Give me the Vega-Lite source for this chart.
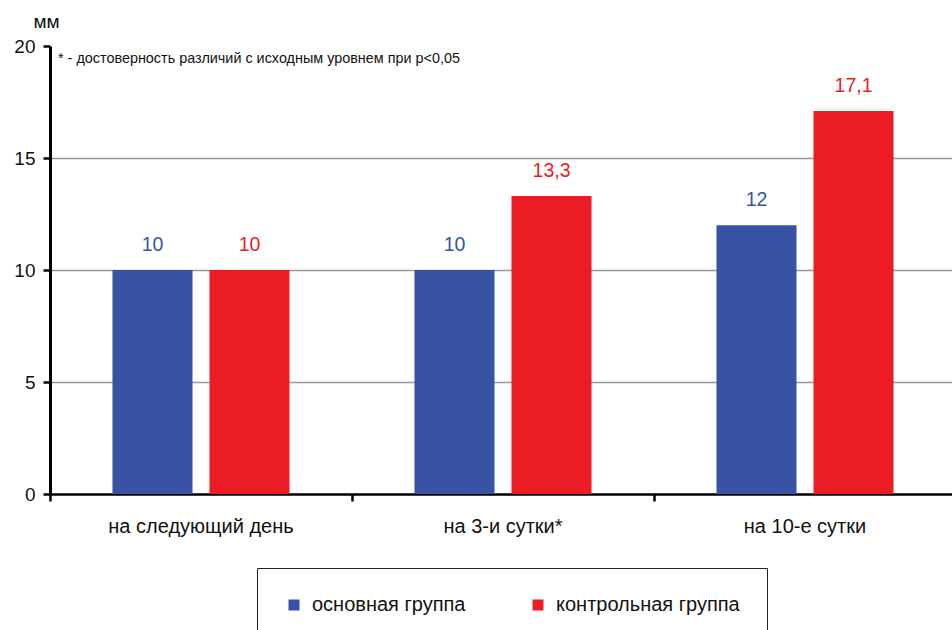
{
  "$schema": "https://vega.github.io/schema/vega-lite/v6.json",
  "autosize": {"type": "none"},
  "width": 906,
  "height": 448,
  "padding": {"left": 50, "top": 46, "right": 0, "bottom": 150},
  "background": "white",
  "config": {
    "font": "Liberation Sans",
    "view": {"stroke": null}
  },
  "title": {
    "text": "* - достоверность различий с исходным уровнем при p<0,05",
    "frame": "group",
    "anchor": "start",
    "orient": "top",
    "offset": 0,
    "dx": 8,
    "dy": 65,
    "baseline": "alphabetic",
    "fontSize": 14.4,
    "fontWeight": "normal",
    "color": "#111"
  },
  "data": {
    "values": [
      {"period": "на следующий день", "group": "основная группа", "value": 10, "label": "10"},
      {"period": "на следующий день", "group": "контрольная группа", "value": 10, "label": "10"},
      {"period": "на 3-и сутки*", "group": "основная группа", "value": 10, "label": "10"},
      {"period": "на 3-и сутки*", "group": "контрольная группа", "value": 13.3, "label": "13,3"},
      {"period": "на 10-е сутки", "group": "основная группа", "value": 12, "label": "12"},
      {"period": "на 10-е сутки", "group": "контрольная группа", "value": 17.1, "label": "17,1"}
    ]
  },
  "encoding": {
    "x": {
      "field": "period",
      "type": "nominal",
      "sort": ["на следующий день", "на 3-и сутки*", "на 10-е сутки"],
      "scale": {"paddingInner": 0, "paddingOuter": 0},
      "axis": {
        "title": null,
        "labelAngle": 0,
        "labelFontSize": 20,
        "labelColor": "#111",
        "labelPadding": 15,
        "labelLimit": 300,
        "bandPosition": 0,
        "domainColor": "#000",
        "domainWidth": 2.5,
        "tickColor": "#000",
        "tickWidth": 2.5,
        "tickSize": 7,
        "grid": false
      }
    },
    "xOffset": {
      "field": "group",
      "type": "nominal",
      "sort": ["основная группа", "контрольная группа"],
      "scale": {"paddingInner": 0.175, "paddingOuter": 0.644}
    },
    "y": {
      "field": "value",
      "type": "quantitative",
      "scale": {"domain": [0, 20], "nice": false},
      "axis": {
        "title": "мм",
        "titleAngle": 0,
        "titleX": -17,
        "titleY": -19,
        "titleAlign": "left",
        "titleBaseline": "alphabetic",
        "titleFontSize": 19,
        "titleFontWeight": "normal",
        "titleColor": "#111",
        "values": [0, 5, 10, 15, 20],
        "labelFontSize": 19,
        "labelColor": "#111",
        "labelPadding": 8,
        "domainColor": "#000",
        "domainWidth": 3,
        "tickColor": "#000",
        "tickWidth": 2.5,
        "tickSize": 7,
        "grid": true,
        "gridColor": "#999",
        "gridWidth": 1.5,
        "gridOpacity": {"condition": {"test": "datum.value === 20 || datum.value === 0", "value": 0}, "value": 1}
      }
    }
  },
  "layer": [
    {
      "mark": {"type": "bar"},
      "encoding": {
        "color": {
          "field": "group",
          "type": "nominal",
          "sort": ["основная группа", "контрольная группа"],
          "scale": {"domain": ["основная группа", "контрольная группа"], "range": ["#3953a4", "#ec1c24"]},
          "legend": {
            "title": null,
            "orient": "none",
            "direction": "horizontal",
            "legendX": 207,
            "legendY": 522,
            "strokeColor": "#222",
            "fillColor": "white",
            "padding": 27,
            "symbolType": "square",
            "symbolSize": 121,
            "symbolStrokeWidth": 0,
            "labelFontSize": 20,
            "labelColor": "#111",
            "labelOffset": 8,
            "columnPadding": 62,
            "labelLimit": 300
          }
        }
      }
    },
    {
      "mark": {"type": "text", "baseline": "alphabetic", "dy": -19, "fontSize": 19.5},
      "encoding": {
        "text": {"field": "label"},
        "color": {
          "field": "group",
          "type": "nominal",
          "scale": {"domain": ["основная группа", "контрольная группа"], "range": ["#3953a4", "#ec1c24"]},
          "legend": null
        }
      }
    }
  ]
}
